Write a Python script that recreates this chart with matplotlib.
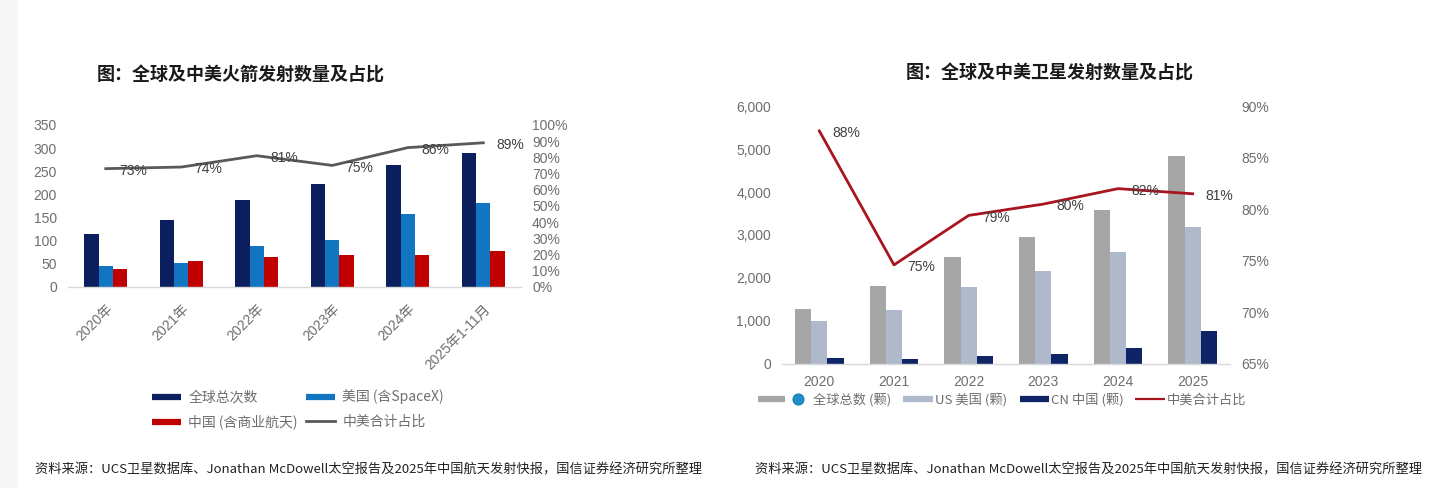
import matplotlib
matplotlib.use("Agg")
import matplotlib.pyplot as plt
import numpy as np
from matplotlib.lines import Line2D
from matplotlib.patches import Rectangle
from matplotlib.legend_handler import HandlerBase
from matplotlib.ticker import FuncFormatter, PercentFormatter

# ---------------- data ----------------
rocket_years = ["2020年", "2021年", "2022年", "2023年", "2024年", "2025年1-11月"]
rocket_global = [115, 145, 187, 223, 264, 290]
rocket_us = [44, 52, 88, 101, 158, 181]
rocket_cn = [39, 55, 65, 68, 68, 77]
rocket_share = [0.73, 0.74, 0.81, 0.75, 0.86, 0.89]
rocket_share_labels = ["73%", "74%", "81%", "75%", "86%", "89%"]

sat_years = ["2020", "2021", "2022", "2023", "2024", "2025"]
sat_global = [1275, 1820, 2478, 2951, 3593, 4844]
sat_us = [1002, 1243, 1788, 2173, 2598, 3192]
sat_cn = [144, 120, 192, 225, 369, 754]
sat_share = [0.876, 0.746, 0.794, 0.805, 0.820, 0.815]
sat_share_labels = ["88%", "75%", "79%", "80%", "82%", "81%"]

title_left = "图：全球及中美火箭发射数量及占比"
title_right = "图：全球及中美卫星发射数量及占比"
source = "资料来源：UCS卫星数据库、Jonathan McDowell太空报告及2025年中国航天发射快报，国信证券经济研究所整理"

# ---------------- style ----------------
CJK = ["Noto Sans CJK SC", "DejaVu Sans"]
LAT = ["Liberation Sans", "Noto Sans CJK SC", "DejaVu Sans"]
plt.rcParams["font.family"] = LAT
TICK = "#6E6E6E"

C_NAVY = "#0B1F5E"
C_BLUE = "#1275C2"
C_RED = "#C00000"
C_LINE = "#595959"
C_GRAY = "#A6A6A6"
C_LIGHT = "#AEBACB"
C_DNAVY = "#0E2466"
C_RLINE = "#A8151F"

fig = plt.figure(figsize=(14.4, 4.88), dpi=100)
fig.patch.set_facecolor("white")
fig.patches.append(Rectangle((0, 0), 18 / 1440, 1, transform=fig.transFigure,
                             facecolor="#F7F7F7", edgecolor="none", zorder=0))


def style_axes(ax, ax2):
    for a in (ax, ax2):
        for s in ("top", "left", "right", "bottom"):
            a.spines[s].set_visible(False)
        a.tick_params(length=0, colors=TICK, labelsize=10, pad=8)
    ax.spines["bottom"].set_visible(True)
    ax.spines["bottom"].set_color("#D9D9D9")
    ax.spines["bottom"].set_linewidth(1.0)


# ---------------- left chart ----------------
axL = fig.add_axes([68 / 1440, 1 - 286.7 / 488, (521 - 68) / 1440, (286.7 - 125) / 488])
axL2 = axL.twinx()
x = np.arange(len(rocket_years))
w = 0.19
axL.bar(x - w, rocket_global, w, color=C_NAVY, zorder=2)
axL.bar(x, rocket_us, w, color=C_BLUE, zorder=2)
axL.bar(x + w, rocket_cn, w, color=C_RED, zorder=2)
axL.set_ylim(0, 350)
axL.set_yticks(np.arange(0, 351, 50))
axL.set_xlim(-0.5, len(x) - 0.5)
axL.set_xticks(x)
axL.set_xticklabels(rocket_years, rotation=45, ha="right", va="top",
                    rotation_mode="anchor", family=LAT, fontsize=10, color=TICK)
axL2.plot(x, rocket_share, color=C_LINE, lw=2.0, zorder=3)
axL2.set_ylim(0, 1.0)
axL2.set_yticks(np.arange(0, 1.01, 0.1))
axL2.yaxis.set_major_formatter(PercentFormatter(1.0, decimals=0))
for xi, yi, lab in zip(x, rocket_share, rocket_share_labels):
    axL2.annotate(lab, (xi, yi), xytext=(9.5, -1.5), textcoords="offset points",
                  ha="left", va="center", fontsize=10, color="#404040")
style_axes(axL, axL2)
axL.tick_params(axis="x", pad=11)
fig.text(241 / 1440, 1 - 75 / 488, title_left, ha="center", va="center",
         fontsize=13, fontweight="bold", family=CJK, color="#1a1a1a")

hL = [Line2D([], [], color=C_NAVY, lw=4.5, solid_capstyle="butt"),
      Line2D([], [], color=C_RED, lw=4.5, solid_capstyle="butt"),
      Line2D([], [], color=C_BLUE, lw=4.5, solid_capstyle="butt"),
      Line2D([], [], color=C_LINE, lw=2.0)]
lL = ["全球总次数", "中国 (含商业航天)", "美国 (含SpaceX)", "中美合计占比"]
legL = fig.legend(hL, lL, ncol=2, loc="center", bbox_to_anchor=(298 / 1440, 1 - 409.5 / 488),
                  frameon=False, prop={"family": CJK, "size": 10}, handlelength=2.1,
                  handletextpad=0.5, columnspacing=0.6, labelspacing=0.75)
for t in legL.get_texts():
    t.set_color(TICK)

# ---------------- right chart ----------------
axR = fig.add_axes([782 / 1440, 1 - 363.8 / 488, (1230 - 782) / 1440, (363.8 - 106.2) / 488])
axR2 = axR.twinx()
x = np.arange(len(sat_years))
w = 0.218
axR.bar(x - w, sat_global, w, color=C_GRAY, zorder=2)
axR.bar(x, sat_us, w, color=C_LIGHT, zorder=2)
axR.bar(x + w, sat_cn, w, color=C_DNAVY, zorder=2)
axR.set_ylim(0, 6000)
axR.set_yticks(np.arange(0, 6001, 1000))
axR.yaxis.set_major_formatter(FuncFormatter(lambda v, p: f"{int(v):,}"))
axR.set_xlim(-0.5, len(x) - 0.5)
axR.set_xticks(x)
axR.set_xticklabels(sat_years, fontsize=10.5, color=TICK)
axR2.plot(x, sat_share, color=C_RLINE, lw=2.0, zorder=3)
axR2.set_ylim(0.65, 0.90)
axR2.set_yticks(np.arange(0.65, 0.901, 0.05))
axR2.yaxis.set_major_formatter(PercentFormatter(1.0, decimals=0))
for xi, yi, lab in zip(x, sat_share, sat_share_labels):
    axR2.annotate(lab, (xi, yi), xytext=(9.5, -1.5), textcoords="offset points",
                  ha="left", va="center", fontsize=10, color="#404040")
style_axes(axR, axR2)
fig.text(1050 / 1440, 1 - 73 / 488, title_right, ha="center", va="center",
         fontsize=13, fontweight="bold", family=CJK, color="#1a1a1a")


class BarHandler(HandlerBase):
    """Legend handle drawn right-aligned in the handle box (units: points)."""
    def __init__(self, color, lw=4.5, seg=21.5, globe=False):
        super().__init__()
        self.color, self.lw, self.seg, self.globe = color, lw, seg, globe

    def create_artists(self, legend, orig, xdescent, ydescent, width, height, fontsize, trans):
        y = height / 2 - ydescent
        x1 = width - xdescent
        if self.globe:
            xs = [x1 - 38.5, x1 - 18.5]
            return [Line2D(xs, [y, y], color=self.color, lw=self.lw, solid_capstyle="butt", transform=trans),
                    Line2D([x1 - 9.8], [y], marker="o", ms=8.0, mfc="#1E8FC8", mec="#167AB0",
                           mew=0.7, transform=trans)]
        xs = [x1 - self.seg, x1]
        return [Line2D(xs, [y, y], color=self.color, lw=self.lw, solid_capstyle="butt", transform=trans)]


hR = [object(), object(), object(), object()]
lR = ["全球总数 (颗)", "US 美国 (颗)", "CN 中国 (颗)", "中美合计占比"]
hmap = {hR[0]: BarHandler(C_GRAY, 4.5, globe=True),
        hR[1]: BarHandler(C_LIGHT, 4.5, seg=21.5),
        hR[2]: BarHandler(C_DNAVY, 4.5, seg=20.5),
        hR[3]: BarHandler(C_RLINE, 1.6, seg=21.5)}
legR = fig.legend(hR, lR, handler_map=hmap, ncol=4, loc="center",
                  bbox_to_anchor=(1009 / 1440, 1 - 400 / 488), frameon=False,
                  prop={"family": CJK, "size": 9.5}, handlelength=3.0, handletextpad=0.15,
                  columnspacing=0.15)
for t in legR.get_texts():
    t.set_color(TICK)

# ---------------- sources ----------------
for sx in (35 / 1440, 755 / 1440):
    fig.text(sx, 1 - 470 / 488, source, ha="left", va="center", fontsize=9.5,
             family=CJK, color="#222222")

fig.savefig("out.png", dpi=100, facecolor="white")
